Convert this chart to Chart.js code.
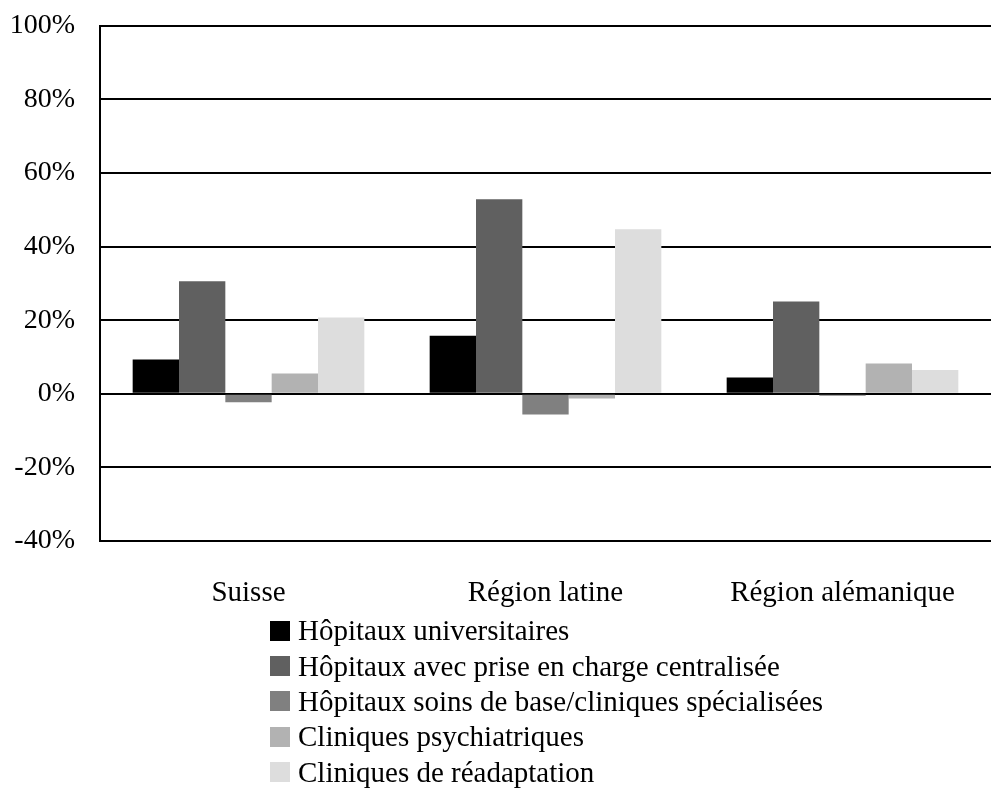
<!DOCTYPE html>
<html>
<head>
<meta charset="utf-8">
<script src="https://cdn.jsdelivr.net/npm/chart.js@4/dist/chart.umd.min.js"></script>
<style>
  body { margin: 0; background: #fff; overflow: hidden; }
  #wrap { position: relative; width: 991px; height: 791px; overflow: hidden; }
  #graphique { position: absolute; left: 0; top: -16px; }
  #legende { position: absolute; left: 270px; top: 613px; font-family: 'Liberation Serif', serif; font-size: 29px; color: #000; }
  #legende div { height: 35.4px; display: flex; align-items: center; white-space: nowrap; }
  #legende span.box { width: 20px; height: 20px; margin-right: 8px; display: inline-block; }
</style>
</head>
<body>
<div id="wrap">
  <canvas id="graphique" width="991" height="807"></canvas>
  <div id="legende"></div>
</div>
<script>
const regions = ['Suisse', 'Région latine', 'Région alémanique'];
const typesHopitaux = [
  'Hôpitaux universitaires',
  'Hôpitaux avec prise en charge centralisée',
  'Hôpitaux soins de base/cliniques spécialisées',
  'Cliniques psychiatriques',
  'Cliniques de réadaptation'
];
const universitaires = [9.3, 15.8, 4.4];
const priseEnCharge = [30.6, 52.9, 25.1];
const soinsDeBase = [-2.3, -5.6, -0.5];
const psychiatriques = [5.5, -1.3, 8.2];
const readaptation = [20.7, 44.7, 6.5];
const couleurs = ['#000000', '#606060', '#808080', '#b2b2b2', '#dddddd'];

const series = [universitaires, priseEnCharge, soinsDeBase, psychiatriques, readaptation];

const ctx = document.getElementById('graphique').getContext('2d');
const graphique = new Chart(ctx, {
    type: 'bar',
    data: {
        labels: regions,
        datasets: series.map((valeurs, i) => ({
            label: typesHopitaux[i],
            data: valeurs,
            backgroundColor: couleurs[i],
            borderWidth: 0,
            categoryPercentage: 0.78,
            barPercentage: 1
        }))
    },
    options: {
        responsive: false,
        animation: false,
        layout: { padding: { top: 8, right: 0, left: 0, bottom: 0 } },
        plugins: {
            legend: { display: false },
            tooltip: { enabled: false }
        },
        scales: {
            x: {
                grid: { display: false },
                border: { display: false },
                ticks: {
                    color: '#000',
                    padding: 27,
                    font: { family: 'Liberation Serif', size: 29 }
                },
                afterFit: (scale) => { scale.height = 250; }
            },
            y: {
                min: -40,
                max: 100,
                ticks: {
                    stepSize: 20,
                    color: '#000',
                    padding: 25,
                    font: { family: 'Liberation Serif', size: 28 },
                    callback: (v) => v + '%'
                },
                grid: { color: '#000', lineWidth: 2, drawTicks: false },
                border: { display: true, color: '#000', width: 2 },
                afterFit: (scale) => { scale.width = 100; }
            }
        }
    }
});

// légende verticale en HTML
const legende = document.getElementById('legende');
typesHopitaux.forEach((nom, i) => {
    const ligne = document.createElement('div');
    ligne.innerHTML = '<span class="box" style="background:' + couleurs[i] + '"></span>' + nom;
    legende.appendChild(ligne);
});
</script>
</body>
</html>
